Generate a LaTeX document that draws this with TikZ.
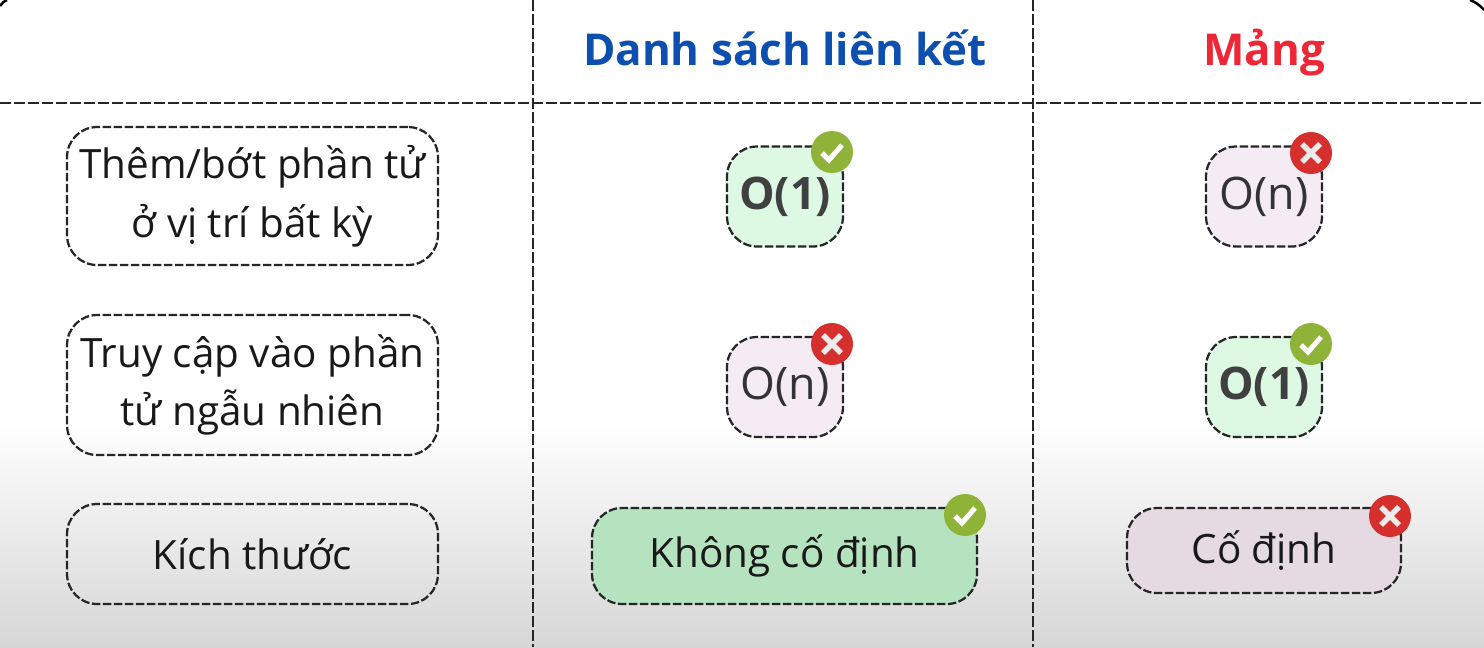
\documentclass[tikz,border=0pt]{standalone}
\usepackage{fontspec}
\setmainfont{Open Sans}
\usetikzlibrary{positioning}
\definecolor{headblue}{HTML}{0D4FAE}
\definecolor{headred}{HTML}{EE2737}
\definecolor{goodfill}{HTML}{DDF9E4}
\definecolor{badfill}{HTML}{F5EBF4}
\definecolor{goodlow}{HTML}{B6E3BF}
\definecolor{badlow}{HTML}{E5DAE2}
\definecolor{okgreen}{HTML}{8FB339}
\definecolor{nored}{HTML}{D5302E}
\tikzset
    { gridline/.style = {line width=0.05cm, black!85, dash pattern=on 0.22cm off 0.06cm}
    , cell/.style =
        { draw=black!85, line width=0.045cm, dash pattern=on 0.17cm off 0.05cm
        , rounded corners=0.6cm, align=center, inner sep=0, outer sep=0
        , font=\fontsize{23}{33.5}\selectfont, text=black!90
        }
    , rowlabel/.style = {cell, minimum width=7.42cm}
    , smallcell/.style = {cell, minimum width=2.32cm, minimum height=2cm}
    , bign/.style = {font=\fontsize{25.5}{30}\selectfont, text=black!80}
    , bigo/.style = {font=\fontsize{25.5}{30}\selectfont\bfseries, text=black!75}
    , badge/.style = {circle, minimum size=0.84cm, inner sep=0, text=white}
    , head/.style = {font=\fontsize{25}{30}\selectfont\bfseries, anchor=base}
    }
% tick and cross inside a named badge
\newcommand{\tickmark}[1]{\draw[white, line width=0.1cm] (#1.center) ++(-10,1) -- ++(7,7) -- ++(13,-15);}
\newcommand{\crossmark}[1]{\draw[white!92!black, line width=0.11cm] (#1.center) ++(-9,-9) -- ++(18,18) ++(-18,0) -- ++(18,-18);}
\begin{document}
\begin{tikzpicture}[x=0.02cm, y=-0.02cm]
    \useasboundingbox (0, 0) rectangle (1484, 647);

    % page fades to grey at the bottom
    \fill[white] (0, 0) rectangle (1484, 420);
    \shade[top color=white, bottom color=black!16] (0, 420) rectangle (1484, 647);

    \coordinate (topA) at (533, 0);
    \coordinate (botA) at (533, 647);
    \coordinate (topB) at (1033, 0);
    \coordinate (botB) at (1033, 647);
    \coordinate (ruleL) at (0, 103);
    \coordinate (ruleR) at (1484, 103);
    \draw[gridline] (ruleL) -- (ruleR);
    \draw[gridline] (topA) -- (botA);
    \draw[gridline] (topB) -- (botB);

    % corners of the frame
    \draw[line width=0.05cm] (0, 6) .. controls (2, 3) and (4, 1) .. (7, 0);
    \draw[line width=0.05cm] (1470, 0) .. controls (1475, 2) and (1480, 5) .. (1484, 10);

    \node[head, text=headblue] (headList) at (785, 65) {Danh sách liên kết};
    \node[head, text=headred] (headArray) at (1264, 65) {Mảng};

    \node[rowlabel, minimum height=2.76cm] (rowInsert) at (252.5, 196) {Thêm/bớt phần tử\\ở vị trí bất kỳ};
    \node[rowlabel, minimum height=2.8cm] (rowAccess) at (252.5, 385) {Truy cập vào phần\\tử ngẫu nhiên};
    \node[rowlabel, minimum height=2cm] (rowSize) at (252.5, 554) {Kích thước};

    \node[smallcell, bigo, fill=goodfill] (listInsert) at (785, 196.5) {O(1)};
    \node[smallcell, bign, fill=badfill] (listAccess) at (785, 387) {O(n)};
    \node[cell, fill=goodlow, minimum width=7.7cm, minimum height=1.92cm] (listSize) at (784.5, 556) {Không cố định};

    \node[smallcell, bign, fill=badfill] (arrayInsert) at (1264, 196.5) {O(n)};
    \node[smallcell, bigo, fill=goodfill] (arrayAccess) at (1264, 387) {O(1)};
    \node[cell, fill=badlow, minimum width=5.48cm, minimum height=1.7cm] (arraySize) at (1264, 550.5) {Cố định};

    \node[badge, fill=okgreen] (okA) at (832, 152) {};
    \node[badge, fill=nored] (noA) at (832, 344) {};
    \node[badge, fill=okgreen] (okB) at (965, 515) {};
    \node[badge, fill=nored] (noB) at (1311, 153) {};
    \node[badge, fill=okgreen] (okC) at (1311, 344) {};
    \node[badge, fill=nored] (noC) at (1390, 516) {};

    \foreach \b in {okA, okB, okC} {\tickmark{\b}}
    \foreach \b in {noA, noB, noC} {\crossmark{\b}}

\end{tikzpicture}
\end{document}
